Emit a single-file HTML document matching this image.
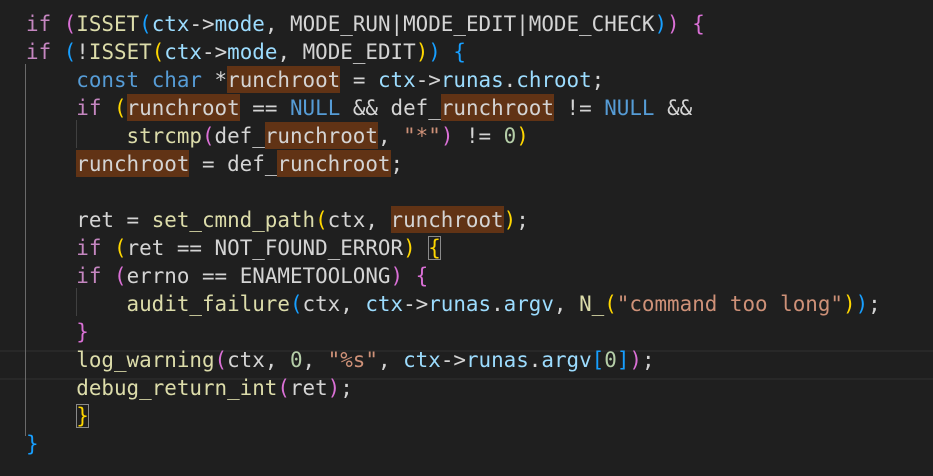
<!DOCTYPE html>
<html><head><style>
body{margin:0;background:#1f1f1f;width:933px;height:476px;overflow:hidden;position:relative}
.l{position:absolute;left:26px;margin-top:2px;height:28px;line-height:28px;white-space:pre;font-family:"DejaVu Sans Mono","Liberation Mono",monospace;font-size:20.88px;color:#d4d4d4}
.k{color:#c586c0}.t{color:#569cd6}.f{color:#dcdcaa}.v{color:#9cdcfe}.s{color:#ce9178}.n{color:#b5cea8}
.g{color:#ffd700}.p{color:#da70d6}.b{color:#179fff}
.h{background:#613315;padding:2px 0 1px}
.bx{outline:1px solid #8a8a8a;outline-offset:-1px}
.guide{position:absolute;width:1px;background:#404040}
.cur{position:absolute;left:0;width:933px;top:350px;height:26px;border-top:2px solid #282828;border-bottom:2px solid #282828}
</style></head><body>
<div class="cur"></div>
<div class="guide" style="left:25px;top:64px;height:372px;background:#6a6a6a"></div>
<div class="guide" style="left:76px;top:120px;height:28px"></div>
<div class="guide" style="left:76px;top:288px;height:28px"></div>
<div class="l" style="top:8px"><span class="k">if</span> <span class="p">(</span><span class="f">ISSET</span><span class="b">(</span><span class="v">ctx</span>-&gt;<span class="v">mode</span>, MODE_RUN|MODE_EDIT|MODE_CHECK<span class="b">)</span><span class="p">)</span> <span class="p">{</span></div>
<div class="l" style="top:36px"><span class="k">if</span> <span class="b">(</span>!<span class="f">ISSET</span><span class="g">(</span><span class="v">ctx</span>-&gt;<span class="v">mode</span>, MODE_EDIT<span class="g">)</span><span class="b">)</span> <span class="b">{</span></div>
<div class="l" style="top:64px">    <span class="t">const</span> <span class="t">char</span> *<span class="h">runchroot</span> = <span class="v">ctx</span>-&gt;<span class="v">runas</span>.<span class="v">chroot</span>;</div>
<div class="l" style="top:92px">    <span class="k">if</span> <span class="g">(</span><span class="h">runchroot</span> == <span class="t">NULL</span> &amp;&amp; def_<span class="h">runchroot</span> != <span class="t">NULL</span> &amp;&amp;</div>
<div class="l" style="top:120px">        <span class="f">strcmp</span><span class="p">(</span>def_<span class="h">runchroot</span>, <span class="s">"*"</span><span class="p">)</span> != <span class="n">0</span><span class="g">)</span></div>
<div class="l" style="top:148px">    <span class="h">runchroot</span> = def_<span class="h">runchroot</span>;</div>
<div class="l" style="top:204px">    ret = <span class="f">set_cmnd_path</span><span class="g">(</span>ctx, <span class="h">runchroot</span><span class="g">)</span>;</div>
<div class="l" style="top:232px">    <span class="k">if</span> <span class="g">(</span>ret == NOT_FOUND_ERROR<span class="g">)</span> <span class="g bx">{</span></div>
<div class="l" style="top:260px">    <span class="k">if</span> <span class="p">(</span>errno == ENAMETOOLONG<span class="p">)</span> <span class="p">{</span></div>
<div class="l" style="top:288px">        <span class="f">audit_failure</span><span class="b">(</span>ctx, <span class="v">ctx</span>-&gt;<span class="v">runas</span>.<span class="v">argv</span>, <span class="f">N_</span><span class="g">(</span><span class="s">"command too long"</span><span class="g">)</span><span class="b">)</span>;</div>
<div class="l" style="top:316px">    <span class="p">}</span></div>
<div class="l" style="top:344px">    <span class="f">log_warning</span><span class="p">(</span>ctx, <span class="n">0</span>, <span class="s">"%s"</span>, <span class="v">ctx</span>-&gt;<span class="v">runas</span>.<span class="v">argv</span><span class="b">[</span><span class="n">0</span><span class="b">]</span><span class="p">)</span>;</div>
<div class="l" style="top:372px">    <span class="f">debug_return_int</span><span class="p">(</span>ret<span class="p">)</span>;</div>
<div class="l" style="top:400px">    <span class="g bx">}</span></div>
<div class="l" style="top:428px"><span class="b">}</span></div>
</body></html>
